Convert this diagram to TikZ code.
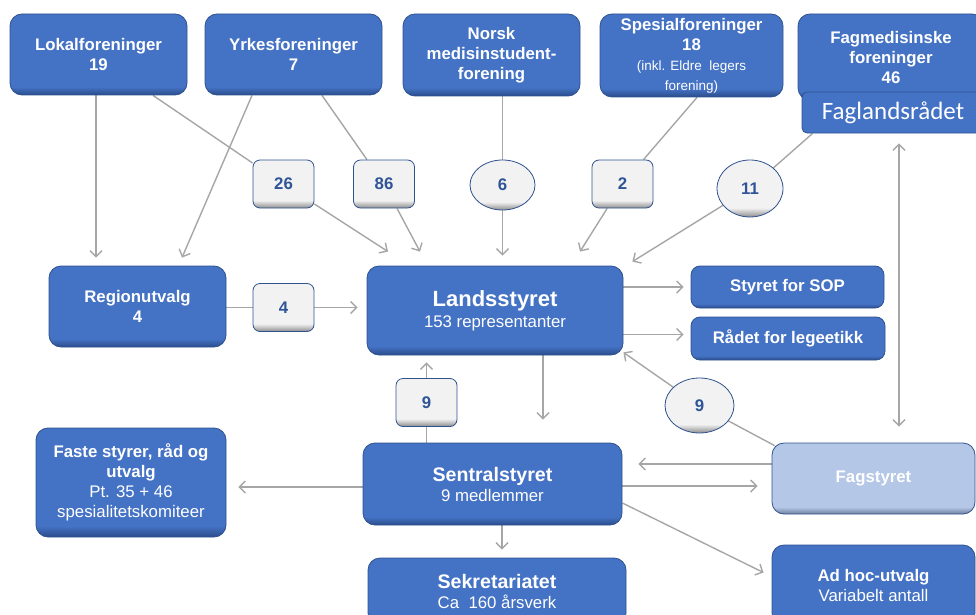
\documentclass[tikz,border=0pt]{standalone}
\usepackage{fontspec}
\setmainfont{Liberation Sans}
\newfontfamily\calibri{Carlito}
\usetikzlibrary{arrows.meta,calc,shapes.geometric}
\definecolor{boxblue}{HTML}{4472C4}
\definecolor{boxedge}{HTML}{2F528F}
\definecolor{boxdark}{HTML}{2A4C8A}
\definecolor{numtext}{HTML}{2F5597}
\definecolor{numfill}{HTML}{F2F2F2}
\definecolor{numdark}{HTML}{8C8C8C}
\definecolor{linegray}{HTML}{A6A6A6}
\definecolor{lightblue}{HTML}{B4C7E7}
\definecolor{lightdark}{HTML}{6F7F9C}
\pgfdeclareverticalshading{blueshade}{100bp}{color(0bp)=(boxdark); color(25bp)=(boxdark); color(30bp)=(boxblue); color(100bp)=(boxblue)}
\pgfdeclareverticalshading{lightshade}{100bp}{color(0bp)=(lightdark); color(25bp)=(lightdark); color(30bp)=(lightblue); color(100bp)=(lightblue)}
\pgfdeclareverticalshading{numshade}{100bp}{color(0bp)=(numdark); color(25bp)=(numdark); color(33bp)=(numfill); color(100bp)=(numfill)}
\pgfdeclarelayer{bg}
\pgfsetlayers{bg,main}
\begin{document}
\begin{tikzpicture}[x=1pt,y=-1pt,
  bluebox/.style={draw=boxedge, line width=0.8pt, shading=blueshade, rounded corners=12pt,
    text=white, align=center, inner sep=2pt,
    font=\fontsize{16.8}{20}\selectfont\bfseries},
  fagbox/.style={draw=boxedge, line width=0.8pt, shading=lightshade, rounded corners=12pt,
    text=white, align=center, inner sep=2pt,
    font=\fontsize{16.8}{20}\selectfont\bfseries},
  numbox/.style={draw=boxedge, line width=0.8pt, shading=numshade, rounded corners=7pt,
    text=numtext, inner sep=1pt, font=\fontsize{16.8}{20}\selectfont\bfseries,
    minimum width=61pt, minimum height=48pt},
  numell/.style={numbox, ellipse, rounded corners=0pt},
  conn/.style={draw=linegray, line width=1.4pt},
  arr/.style={conn, -{Straight Barb[length=6pt,width=12pt]}},
]
\useasboundingbox (0,0) rectangle (976,615);

% top row
\node[bluebox, minimum width=177pt, minimum height=81pt] (lokal) at (98.5,54.5) {Lokalforeninger\\19};
\node[bluebox, minimum width=177pt, minimum height=81pt] (yrkes) at (293.5,54.5) {Yrkesforeninger\\7};
\node[bluebox, minimum width=177pt, minimum height=82pt] (norsk) at (491.5,55) {Norsk\\medisinstudent-\\forening};
\node[bluebox, minimum width=183pt, minimum height=83pt] (spesial) at (691.5,55.5)
  {Spesialforeninger\\18\\{\mdseries\fontsize{13.5}{19}\selectfont (inkl. Eldre\ \ legers}\\{\mdseries\fontsize{13.5}{19}\selectfont forening)}};
\node[bluebox, minimum width=186pt, minimum height=86pt] (fagmed) at (891,57) {Fagmedisinske\\foreninger\\46};
\node[draw=boxedge, line width=0.8pt, fill=boxblue, rounded corners=5pt, text=white,
  font=\calibri\fontsize{25}{28}\selectfont, minimum width=182pt, minimum height=41pt,
  inner sep=0pt, align=center] (faglands) at (893,112.5) {Faglandsrådet};

% number boxes row
\node[numbox] (n26) at (283.5,184) {26};
\node[numbox] (n86) at (384,184) {86};
\node[numell, minimum width=65pt, minimum height=50pt] (e6) at (502.5,185) {6};
\node[numbox] (n2) at (622.5,184) {2};
\node[numell, minimum width=66pt, minimum height=57pt] (e11) at (750,188.5) {11};

% middle
\node[bluebox, minimum width=177pt, minimum height=81pt] (region) at (137.5,306.5) {Regionutvalg\\4};
\node[numbox] (n4) at (283.5,307.5) {4};
\node[bluebox, minimum width=256pt, minimum height=89pt] (lands) at (495,310.5)
  {{\fontsize{22}{22}\selectfont Landsstyret}\\[1pt]{\mdseries 153 representanter}};
\node[bluebox, rounded corners=9pt, minimum width=193pt, minimum height=42pt] (sop) at (787.5,287) {Styret for SOP};
\node[bluebox, rounded corners=9pt, minimum width=194pt, minimum height=43pt] (raadet) at (788,338.5) {Rådet for legeetikk};

\node[numbox] (n9) at (426.5,402.5) {9};
\node[numell, minimum width=69pt, minimum height=55pt] (e9) at (699.5,405.5) {9};

% lower
\node[bluebox, minimum width=190pt, minimum height=109pt] (faste) at (131,482.5)
  {Faste styrer, råd og\\utvalg\\{\mdseries Pt. 35 + 46}\\{\mdseries spesialitetskomiteer}};
\node[bluebox, minimum width=259pt, minimum height=82pt] (sentral) at (492.5,484)
  {{\fontsize{19.6}{23}\selectfont Sentralstyret}\\{\mdseries 9 medlemmer}};
\node[fagbox, minimum width=203pt, minimum height=71pt] (fagstyret) at (873.5,478.5) {Fagstyret};
\node[bluebox, minimum width=258pt, minimum height=67pt] (sekr) at (497,591.5)
  {{\fontsize{19.6}{22}\selectfont Sekretariatet}\\{\mdseries Ca\ \ 160 årsverk}};
\node[bluebox, minimum width=203pt, minimum height=80pt] (adhoc) at (873.5,585)
  {Ad hoc-utvalg\\{\mdseries Variabelt antall}};

\begin{pgfonlayer}{bg}
\draw[arr, shorten >=8pt] ($(lokal.south)+(-2.5,0)$) -- ($(region.north)+(-41.5,0)$);
\draw[arr] ($(yrkes.south)+(-41.5,0)$) -- ($(region.north)+(44.5,-8)$);
\draw[conn] ($(lokal.south)+(54.5,0)$) -- (n26);
\draw[arr] (n26) -- ($(lands.north)+(-107,-14)$);
\draw[conn] ($(yrkes.south)+(28.5,0)$) -- (n86);
\draw[arr] (n86) -- ($(lands.north)+(-75,-14)$);
\draw[conn] (norsk.south -| e6) -- (e6);
\draw[arr, shorten >=10pt] (e6) -- (e6 |- lands.north);
\draw[conn] ($(spesial.south)+(5.5,0)$) -- (n2);
\draw[arr] (n2) -- ($(lands.north)+(85,-14)$);
\draw[conn] ($(faglands.south west)+(11,0)$) -- (e11);
\draw[arr] (e11) -- ($(lands.north east)+(9,-4)$);
\draw[conn, {Straight Barb[length=6pt,width=12pt]}-{Straight Barb[length=6pt,width=12pt]}]
  ($(faglands.south)+(6,10)$) -- ($(fagstyret.north)+(25.5,-16)$);
\draw[conn] (n4.west -| region.east) -- (n4.west);
\draw[arr, shorten >=9pt] (n4.east) -- (n4.east -| lands.west);
\draw[arr, shorten >=7pt] (sop.west -| lands.east) -- (sop.west);
\draw[arr, shorten >=7pt] ($(raadet.west -| lands.east)+(0,-4)$) -- ($(raadet.west)+(0,-4)$);
\draw[arr, shorten >=23pt] ($(lands.south)+(48,0)$) -- ($(sentral.north)+(50.5,0)$);
\draw[conn] (n9.south |- sentral.north) -- (n9.south);
\draw[arr, shorten >=7pt] (n9.north) -- (n9.north |- lands.south);
\draw[conn] ($(fagstyret.north west)+(3,3)$) -- (e9);
\draw[arr] (e9) -- ($(lands.south east)+(0,-3)$);
\draw[arr, shorten >=16pt] ($(fagstyret.west)+(0,-14.5)$) -- ($(sentral.east)+(0,-20)$);
\draw[arr, shorten >=14pt] ($(sentral.east)+(0,2)$) -- ($(fagstyret.west)+(0,7.5)$);
\draw[arr] ($(sentral.east)+(0,19)$) -- ($(adhoc.north west)+(-8,28)$);
\draw[arr, shorten >=12pt] ($(sentral.west)+(0,3)$) -- ($(faste.east)+(0,4.5)$);
\draw[arr, shorten >=8pt] ($(sentral.south)+(9.5,0)$) -- ($(sekr.north)+(5,0)$);
\end{pgfonlayer}
\end{tikzpicture}
\end{document}
